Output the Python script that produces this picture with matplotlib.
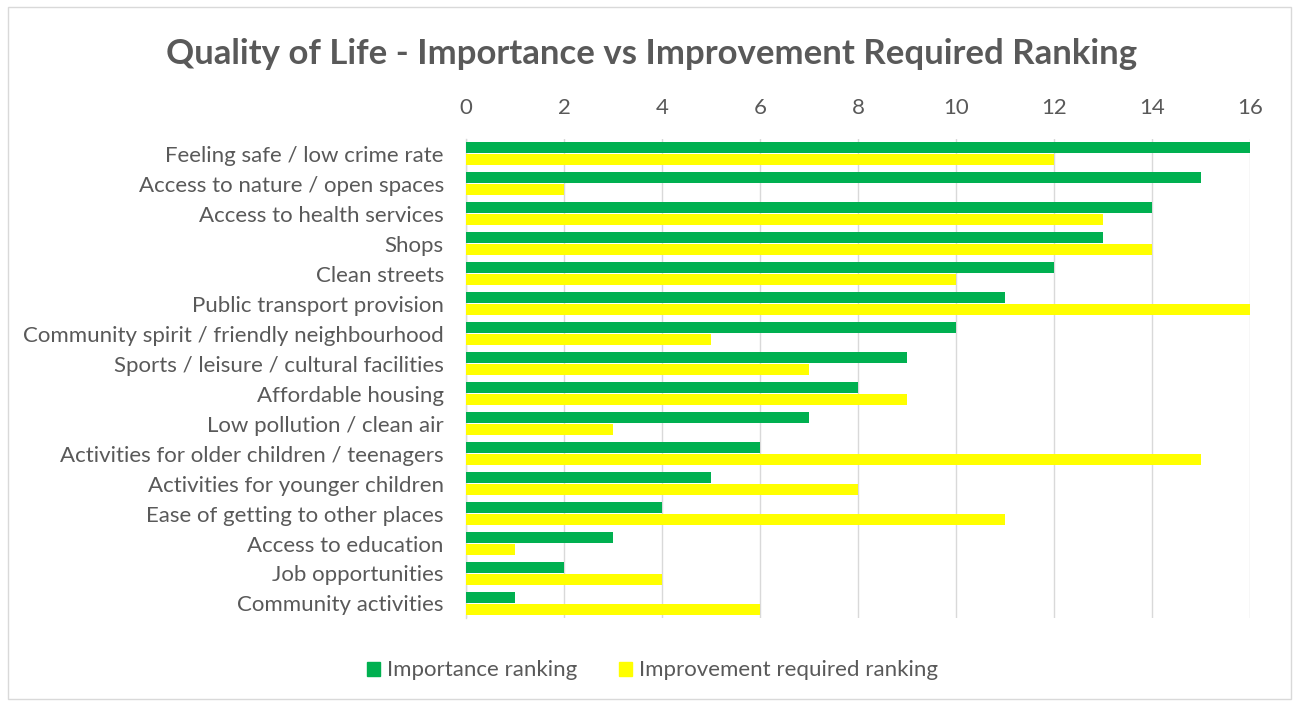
import numpy as np
import matplotlib.pyplot as plt
from matplotlib.patches import Rectangle, Patch

plt.rcParams['font.family'] = ['Lato', 'DejaVu Sans']

categories = [
    'Feeling safe / low crime rate',
    'Access to nature / open spaces',
    'Access to health services',
    'Shops',
    'Clean streets',
    'Public transport provision',
    'Community spirit / friendly neighbourhood',
    'Sports / leisure / cultural facilities',
    'Affordable housing',
    'Low pollution / clean air',
    'Activities for older children / teenagers',
    'Activities for younger children',
    'Ease of getting to other places',
    'Access to education',
    'Job opportunities',
    'Community activities',
]
importance = [16, 15, 14, 13, 12, 11, 10, 9, 8, 7, 6, 5, 4, 3, 2, 1]
improvement = [12, 2, 13, 14, 10, 16, 5, 7, 9, 3, 15, 8, 11, 1, 4, 6]

GREEN = '#00B050'
YELLOW = '#FFFF00'
TXT = '#595959'

fig = plt.figure(figsize=(12.97, 7.05), dpi=100)
fig.patches.append(Rectangle((0.006, 0.008), 0.989, 0.982, transform=fig.transFigure,
                             fill=False, edgecolor='#D9D9D9', linewidth=1.0))

ax = fig.add_axes([0.3593, 0.1227, 0.6045, 0.6808])
y = np.arange(len(categories))
h = 0.37
ax.barh(y - h / 2 - 0.01, importance, height=h, color=GREEN, label='Importance ranking', zorder=3)
ax.barh(y + h / 2 + 0.01, improvement, height=h, color=YELLOW, label='Improvement required ranking', zorder=3)

ax.set_ylim(len(categories) - 0.5, -0.5)
ax.set_xlim(0, 16)
ax.set_xticks(range(0, 17, 2))
ax.xaxis.tick_top()
ax.set_yticks(y)
ax.set_yticklabels(categories)
ax.tick_params(axis='both', length=0, labelsize=16, colors=TXT)
ax.tick_params(axis='x', pad=15)
ax.tick_params(axis='y', pad=16)
ax.grid(axis='x', color='#D9D9D9', linewidth=1.0, zorder=0)
for s in ['top', 'right', 'bottom']:
    ax.spines[s].set_visible(False)
ax.spines['left'].set_color('#D9D9D9')
ax.spines['left'].set_linewidth(1.0)

fig.text(0.502, 0.924, 'Quality of Life - Importance vs Improvement Required Ranking',
         ha='center', va='center', fontsize=25, fontweight='bold', color=TXT)

handles = [Patch(color=GREEN, label='Importance ranking'),
           Patch(color=YELLOW, label='Improvement required ranking')]
fig.legend(handles=handles, loc='center', bbox_to_anchor=(0.503, 0.049), ncol=2,
           frameon=False, fontsize=16, labelcolor=TXT, handlelength=0.6,
           handleheight=0.6, handletextpad=0.3, columnspacing=1.9)

fig.savefig('out.png', dpi=100)
